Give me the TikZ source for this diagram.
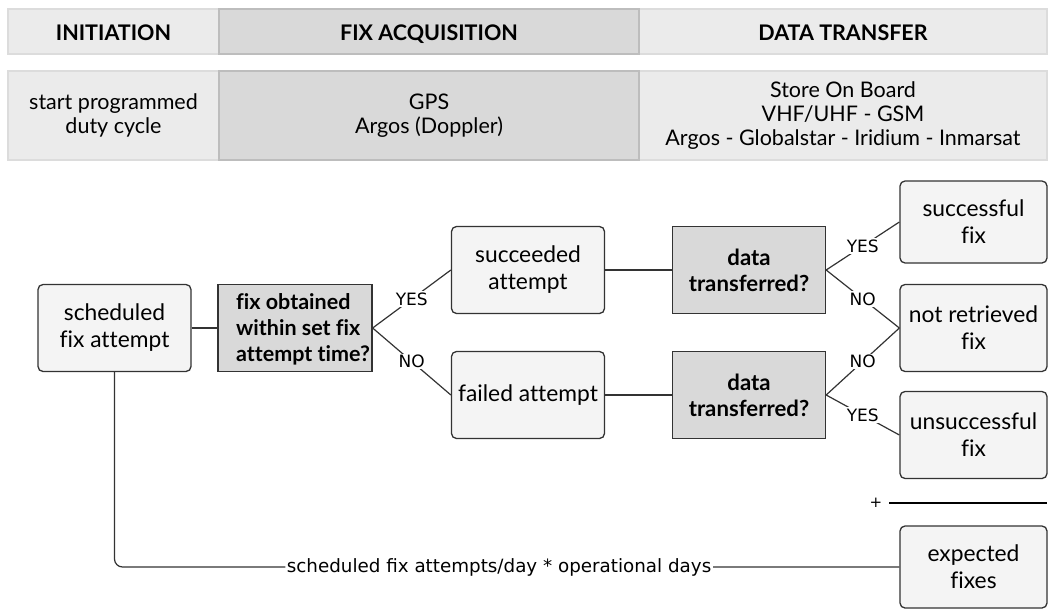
\documentclass[tikz,border=0pt]{standalone}
\usepackage{fontspec}
\setmainfont{Lato}[Ligatures=NoCommon]
\newfontfamily\djfont{DejaVu Sans}
\definecolor{hlight}{HTML}{EBEBEB}
\definecolor{hlightb}{HTML}{DCDCDC}
\definecolor{hdark}{HTML}{D9D9D9}
\definecolor{hdarkb}{HTML}{BDBDBD}
\definecolor{boxfill}{HTML}{F4F4F4}
\definecolor{qfill}{HTML}{D9D9D9}
\definecolor{edge}{HTML}{333333}
\tikzset{
  hcell/.style={draw=hlightb, fill=hlight, line width=1.5pt, inner sep=0pt, align=center},
  hcelldark/.style={draw=hdarkb, fill=hdark, line width=1.5pt, inner sep=0pt, align=center},
  htitle/.style={font=\fontsize{21.5}{25}\selectfont\bfseries, text height=18pt, text depth=1pt},
  htext/.style={font=\fontsize{21.5}{24}\selectfont},
  rbox/.style={draw=edge, fill=boxfill, rounded corners=5pt, line width=1.3pt, inner sep=0pt, align=center, font=\fontsize{22.8}{27}\selectfont, minimum width=153pt, minimum height=87pt},
  qbox/.style={draw=edge, fill=qfill, line width=1.3pt, inner sep=0pt, align=center, font=\fontsize{22.2}{26}\selectfont\bfseries, minimum width=154pt, minimum height=87pt},
  conn/.style={draw=edge, line width=1.2pt},
  lab/.style={fill=white, inner sep=1.5pt, font=\djfont\fontsize{17}{19}\selectfont},
  blab/.style={fill=white, inner sep=1.5pt, font=\djfont\fontsize{18.3}{20}\selectfont},
}
\begin{document}
\begin{tikzpicture}[x=1pt,y=-1pt]
\useasboundingbox (0,0) rectangle (1056,608);
% header row 1
\node[hcell, htitle, minimum width=211pt, minimum height=45pt] (h1a) at (113.5,31.5) {INITIATION};
\node[hcell, htitle, minimum width=408pt, minimum height=45pt] (h1c) at (843,31.5) {DATA TRANSFER};
\node[hcelldark, htitle, minimum width=420pt, minimum height=45pt] (h1b) at (429,31.5) {FIX ACQUISITION};
% header row 2
\node[hcell, htext, minimum width=211pt, minimum height=89pt] (h2a) at (113.5,115.5) {start programmed\\duty cycle};
\node[hcell, htext, minimum width=408pt, minimum height=89pt] (h2c) at (843,115.5) {Store On Board\\VHF/UHF - GSM\\Argos - Globalstar - Iridium - Inmarsat};
\node[hcelldark, htext, minimum width=420pt, minimum height=89pt] (h2b) at (429,115.5) {GPS\\Argos (Doppler)};
% flow nodes
\node[rbox] (sched) at (114.5,328) {scheduled\\fix attempt};
\node[qbox] (fixq) at (295,328) {};
\node[anchor=west, align=left, inner sep=0pt, font=\fontsize{21.5}{26}\selectfont\bfseries] (fixqt) at (236,329) {fix obtained\\within set fix\\attempt time?};
\node[rbox] (succ) at (528,270) {succeeded\\attempt};
\node[rbox] (fail) at (528,395) {failed attempt};
\node[qbox, minimum width=153pt] (dt1) at (749,270) {data\\transferred?};
\node[qbox, minimum width=153pt] (dt2) at (749,395) {data\\transferred?};
\node[rbox, minimum width=147pt, minimum height=82pt] (sfix) at (973.5,222) {successful\\fix};
\node[rbox, minimum width=147pt] (nfix) at (973.5,328) {not retrieved\\fix};
\node[rbox, minimum width=147pt] (ufix) at (973.5,435) {unsuccessful\\fix};
\node[rbox, minimum width=147pt, minimum height=82pt] (efix) at (973.5,567) {expected\\fixes};
% connectors
\draw[conn] (sched) -- (fixq);
\draw[conn] (fixq.east) -- node[lab] {YES} (succ.west);
\draw[conn] (fixq.east) -- node[lab] {NO} (fail.west);
\draw[conn] (succ) -- (dt1);
\draw[conn] (fail) -- (dt2);
\draw[conn] (dt1.east) -- node[lab] {YES} (sfix.west);
\draw[conn] (dt1.east) -- node[lab] {NO} (nfix.west);
\draw[conn] (dt2.east) -- node[lab] {NO} (nfix.west);
\draw[conn] (dt2.east) -- node[lab] {YES} (ufix.west);
\draw[conn, rounded corners=8pt] (sched.south) |- node[blab, pos=0.745] {scheduled fix attempts/day * operational days} (efix.west);
% sum line
\coordinate (sumL) at (889,503);
\coordinate (sumR) at (1047,503);
\draw[line width=2.5pt, black] (sumL) -- (sumR);
\node[font=\djfont\fontsize{15}{17}\selectfont, inner sep=0pt] (plus) at (876,503) {+};
\end{tikzpicture}
\end{document}
